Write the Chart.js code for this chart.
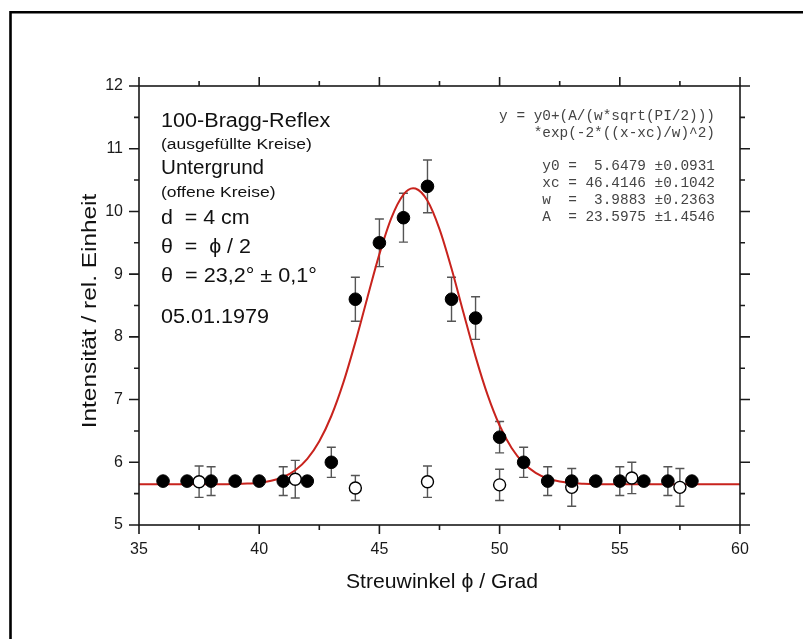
<!DOCTYPE html>
<html>
<head>
<meta charset="utf-8">
<script src="https://cdn.jsdelivr.net/npm/chart.js@4.4.1/dist/chart.umd.min.js"></script>
<style>
html,body{margin:0;padding:0;background:#fff;}
canvas{display:block;}
</style>
</head>
<body>
<canvas id="c" width="803" height="639"></canvas>
<script>
// ---- data ----
const xTicks = [35, 40, 45, 50, 55, 60];
const yTicks = [5, 6, 7, 8, 9, 10, 11, 12];

// 100-Bragg-Reflex (filled circles)
const braggX   = [36, 37, 38, 39, 40, 41, 42, 43, 44, 45, 46, 47, 48, 49, 50, 51, 52, 53, 54, 55, 56, 57, 58];
const braggY   = [5.7, 5.7, 5.7, 5.7, 5.7, 5.7, 5.7, 6.0, 8.6, 9.5, 9.9, 10.4, 8.6, 8.3, 6.4, 6.0, 5.7, 5.7, 5.7, 5.7, 5.7, 5.7, 5.7];
const braggErr = [0, 0, 0.23, 0, 0, 0.23, 0, 0.24, 0.35, 0.38, 0.39, 0.42, 0.35, 0.34, 0.25, 0.24, 0.23, 0, 0, 0.23, 0, 0.23, 0];

// Untergrund (open circles)
const bgX   = [37.5, 41.5, 44, 47, 50, 53, 55.5, 57.5];
const bgY   = [5.69, 5.73, 5.59, 5.69, 5.64, 5.6, 5.75, 5.6];
const bgErr = [0.25, 0.3, 0.2, 0.25, 0.25, 0.3, 0.25, 0.3];

// fitted Gauss curve (red line)
const fitX = [35, 36, 37, 38, 38.5, 39, 39.5, 40, 40.5, 41, 41.5, 42, 42.5, 43, 43.5, 44, 44.5, 45, 45.5, 46, 46.4, 46.5, 47, 47.5, 48, 48.5, 49, 49.5, 50, 50.5, 51, 51.5, 52, 52.5, 53, 53.5, 54, 55, 56, 57, 58, 59, 60];
const fitY = [5.648, 5.648, 5.648, 5.649, 5.650, 5.653, 5.660, 5.675, 5.706, 5.766, 5.874, 6.055, 6.335, 6.738, 7.270, 7.916, 8.625, 9.319, 9.898, 10.268, 10.369, 10.365, 10.170, 9.719, 9.090, 8.380, 7.685, 7.074, 6.586, 6.227, 5.984, 5.831, 5.741, 5.693, 5.668, 5.657, 5.651, 5.648, 5.648, 5.648, 5.648, 5.648, 5.648];

const noteLines = [
  ['100-Bragg-Reflex', 20, 1.08, 127],
  ['(ausgefüllte Kreise)', 15.5, 1.13, 149],
  ['Untergrund', 20, 1.03, 174],
  ['(offene Kreise)', 15.5, 1.13, 197],
  ['d  = 4 cm', 20, 1.07, 224],
  ['θ  =  ϕ / 2', 20, 1.07, 253],
  ['θ  = 23,2° ± 0,1°', 20, 1.08, 282],
  ['05.01.1979', 20, 1.08, 323]
];
const fitLines = [
  ['y = y0+(A/(w*sqrt(PI/2)))', 120],
  ['*exp(-2*((x-xc)/w)^2)', 137],
  ['y0 =  5.6479 ±0.0931', 170],
  ['xc = 46.4146 ±0.1042', 187],
  ['w  =  3.9883 ±0.2363', 204],
  ['A  = 23.5975 ±1.4546', 221]
];
const xTitle = 'Streuwinkel ϕ / Grad';
const yTitle = 'Intensität / rel. Einheit';

const SANS = '"Liberation Sans", Arial, sans-serif';
const MONO = '"Liberation Mono", "Courier New", monospace';
const AXIS = '#1a1a1a';

const toPts = (xs, ys) => xs.map((x, i) => ({x: x, y: ys[i]}));

function scaledText(ctx, t, x, y, sx, align) {
  ctx.save();
  ctx.translate(x, y);
  ctx.scale(sx, 1);
  ctx.textAlign = align;
  ctx.fillText(t, 0, 0);
  ctx.restore();
}

const decorPlugin = {
  id: 'decor',
  beforeDatasetsDraw(chart) {
    const ctx = chart.ctx, xs = chart.scales.x, ys = chart.scales.y;
    ctx.save();
    ctx.strokeStyle = '#555';
    ctx.lineWidth = 1.4;
    const bars = (X, Y, E) => {
      X.forEach((xv, i) => {
        if (!E[i]) return;
        const px = xs.getPixelForValue(xv);
        const p1 = ys.getPixelForValue(Y[i] + E[i]);
        const p2 = ys.getPixelForValue(Y[i] - E[i]);
        ctx.beginPath();
        ctx.moveTo(px, p1); ctx.lineTo(px, p2);
        ctx.moveTo(px - 4.5, p1); ctx.lineTo(px + 4.5, p1);
        ctx.moveTo(px - 4.5, p2); ctx.lineTo(px + 4.5, p2);
        ctx.stroke();
      });
    };
    bars(braggX, braggY, braggErr);
    bars(bgX, bgY, bgErr);
    ctx.restore();
  },
  afterDraw(chart) {
    const ctx = chart.ctx, xs = chart.scales.x, ys = chart.scales.y;
    const a = chart.chartArea;
    ctx.save();
    // frame
    ctx.strokeStyle = AXIS;
    ctx.lineWidth = 1.6;
    ctx.strokeRect(a.left, a.top, a.right - a.left, a.bottom - a.top);
    // ticks (outward on all sides)
    ctx.beginPath();
    for (let v = 35; v <= 60.001; v += 2.5) {
      const px = xs.getPixelForValue(v);
      const major = Math.abs(v / 5 - Math.round(v / 5)) < 1e-6;
      const L = major ? 9 : 5;
      ctx.moveTo(px, a.bottom); ctx.lineTo(px, a.bottom + L);
      ctx.moveTo(px, a.top); ctx.lineTo(px, a.top - L);
    }
    for (let v = 5; v <= 12.001; v += 0.5) {
      const py = ys.getPixelForValue(v);
      const major = Math.abs(v - Math.round(v)) < 1e-6;
      const L = major ? 10 : 5;
      ctx.moveTo(a.left, py); ctx.lineTo(a.left - L, py);
      ctx.moveTo(a.right, py); ctx.lineTo(a.right + L, py);
    }
    ctx.stroke();

    // outer figure border (left and top only are visible)
    ctx.strokeStyle = '#000';
    ctx.lineWidth = 2.6;
    ctx.beginPath();
    ctx.moveTo(10.5, 639); ctx.lineTo(10.5, 12.3); ctx.lineTo(803, 12.3);
    ctx.stroke();

    // notes
    ctx.fillStyle = '#111';
    ctx.textBaseline = 'alphabetic';
    noteLines.forEach(([t, s, sx, y]) => {
      ctx.font = s + 'px ' + SANS;
      scaledText(ctx, t, 161, y, sx, 'left');
    });
    // fit parameters
    ctx.fillStyle = '#444';
    ctx.font = '14.4px ' + MONO;
    fitLines.forEach(([t, y]) => scaledText(ctx, t, 715, y, 1, 'right'));

    // axis titles
    ctx.fillStyle = '#111';
    ctx.font = '20px ' + SANS;
    scaledText(ctx, xTitle, 442, 588, 1.06, 'center');
    ctx.save();
    ctx.translate(96, 311);
    ctx.rotate(-Math.PI / 2);
    scaledText(ctx, yTitle, 0, 0, 1.22, 'center');
    ctx.restore();
    ctx.restore();
  }
};

new Chart(document.getElementById('c'), {
  type: 'scatter',
  data: {
    datasets: [
      {
        label: 'Fit',
        data: toPts(fitX, fitY),
        showLine: true,
        borderColor: '#c8231d',
        borderWidth: 2,
        pointRadius: 0,
        cubicInterpolationMode: 'monotone',
        order: 3
      },
      {
        label: 'Untergrund',
        data: toPts(bgX, bgY),
        pointRadius: 6,
        pointBackgroundColor: '#fff',
        pointBorderColor: '#000',
        pointBorderWidth: 1.4,
        order: 2
      },
      {
        label: '100-Bragg-Reflex',
        data: toPts(braggX, braggY),
        pointRadius: 6.3,
        pointBackgroundColor: '#000',
        pointBorderColor: '#000',
        pointBorderWidth: 1,
        order: 1
      }
    ]
  },
  options: {
    responsive: false,
    devicePixelRatio: 1,
    animation: false,
    events: [],
    layout: { padding: { left: 0, top: 86, right: 63, bottom: 0 } },
    plugins: { legend: { display: false }, tooltip: { enabled: false }, title: { display: false } },
    scales: {
      x: {
        type: 'linear',
        position: 'bottom',
        min: 35, max: 60,
        afterFit: s => { s.height = 114; },
        afterBuildTicks: s => { s.ticks = xTicks.map(v => ({ value: v })); },
        grid: { display: false, drawTicks: false },
        border: { display: false },
        ticks: { padding: 15, color: '#1a1a1a', font: { family: SANS, size: 16 }, maxRotation: 0 }
      },
      y: {
        type: 'linear',
        position: 'left',
        min: 5, max: 12,
        afterFit: s => { s.width = 139; },
        afterBuildTicks: s => { s.ticks = yTicks.map(v => ({ value: v })); },
        grid: { display: false, drawTicks: false },
        border: { display: false },
        ticks: { padding: 16, color: '#1a1a1a', font: { family: SANS, size: 16 } }
      }
    }
  },
  plugins: [decorPlugin]
});
</script>
</body>
</html>
